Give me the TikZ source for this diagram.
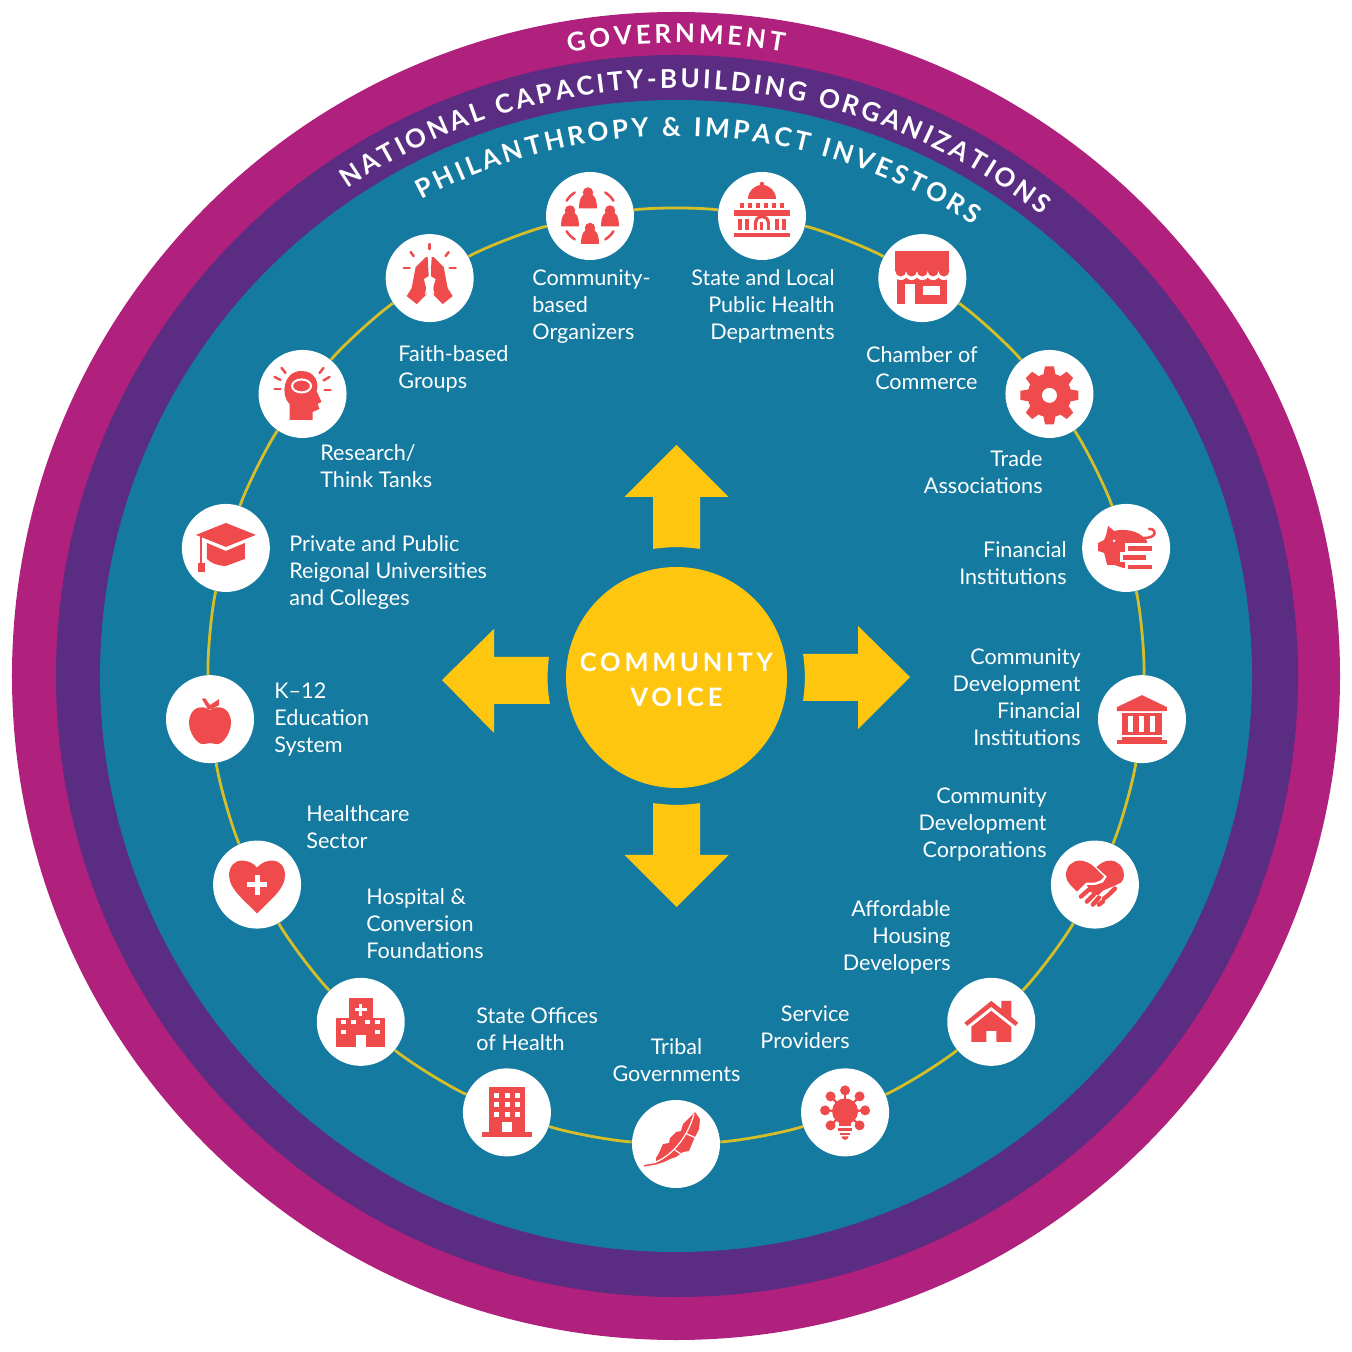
\documentclass[tikz,border=0pt]{standalone}
\usepackage{fontspec}
\usetikzlibrary{calc}
\usetikzlibrary{decorations.text}
\setmainfont{Lato}
\newfontfamily\ringfont{Lato}[LetterSpace=0]
\newfontfamily\voicefont{Lato}[LetterSpace=15]
\definecolor{govmagenta}{RGB}{176,32,125}
\definecolor{natpurple}{RGB}{90,44,130}
\definecolor{philteal}{RGB}{20,122,160}
\definecolor{voiceyellow}{RGB}{254,198,14}
\definecolor{ringgold}{RGB}{214,190,40}
\definecolor{iconred}{RGB}{240,75,76}
\tikzset{
    stake/.style={circle, fill=white, inner sep=0pt, minimum size=44pt},
    lbl/.style={text=white, font=\fontsize{10.8}{13.5}\selectfont, inner sep=0pt},
    lblL/.style={lbl, anchor=west, align=left},
    lblR/.style={lbl, anchor=east, align=right},
    ringline/.style={draw=ringgold, line width=1.4pt},
    arrowfill/.style={fill=voiceyellow},
    icon/.style={fill=iconred},
    iconw/.style={fill=white},
    ray/.style={draw=iconred, line width=1.25pt, line cap=round},
    finger/.style={draw=iconred, line width=2.2pt, line cap=round},
    cut/.style={draw=white, line width=0.6pt, line cap=round},
}
\begin{document}
\begin{tikzpicture}[x=0.5pt, y=0.5pt]
    \useasboundingbox (-676,-676) rectangle (676,676);

    % nested rings
    \fill[govmagenta] (0,0) circle (664);
    \fill[natpurple] (1,0) circle (621);
    \fill[philteal] (0,0) circle (576);

    \path[decorate, decoration={text along path, text align=fit to path,
        text={|\ringfont\bfseries\fontsize{13}{14}\selectfont\color{white}|GOVERNMENT}}]
        (99.8:633) arc[start angle=99.8, end angle=80.2, radius=633];
    \path[decorate, decoration={text along path, text align=fit to path,
        text={|\ringfont\bfseries\fontsize{13}{14}\selectfont\color{white}|NATIONAL CAPACITY-BUILDING ORGANIZATIONS}}]
        (124:588) arc[start angle=124, end angle=51.6, radius=588];
    \path[decorate, decoration={text along path, text align=fit to path,
        text={|\ringfont\bfseries\fontsize{13}{14}\selectfont\color{white}|PHILANTHROPY {\&} IMPACT INVESTORS}}]
        (118.1:540) arc[start angle=118.1, end angle=56.6, radius=540];

    % stakeholders, counter-clockwise from the bottom
    \node[stake] (tribal) at (270:468) {};
    \node[stake] (service) at (291.18:468) {};
    \node[stake] (housing) at (312.35:468) {};
    \node[stake] (cdc) at (333.53:468) {};
    \node[stake] (cdfi) at (354.71:468) {};
    \node[stake] (financial) at (15.88:468) {};
    \node[stake] (trade) at (37.06:468) {};
    \node[stake] (chamber) at (58.24:468) {};
    \node[stake] (statelocal) at (79.41:468) {};
    \node[stake] (cbo) at (100.59:468) {};
    \node[stake] (faith) at (121.76:468) {};
    \node[stake] (research) at (142.94:468) {};
    \node[stake] (univ) at (164.12:468) {};
    \node[stake] (ktwelve) at (185.29:468) {};
    \node[stake] (healthcare) at (206.47:468) {};
    \node[stake] (hospital) at (227.65:468) {};
    \node[stake] (stateoffice) at (248.82:468) {};

    \foreach \a/\b in {tribal/service, service/housing, housing/cdc, cdc/cdfi, cdfi/financial,
        financial/trade, trade/chamber, chamber/statelocal, statelocal/cbo, cbo/faith,
        faith/research, research/univ, univ/ktwelve, ktwelve/healthcare,
        healthcare/hospital, hospital/stateoffice, stateoffice/tribal}
        \draw[ringline] (\a) to[bend right=7.9, looseness=0.56] (\b);

    % labels
    \node[lblL] (cbolbl) at (-144,369.5) {Community-\\based\\Organizers};
    \node[lblR] (statelocallbl) at (159,369.5) {State and Local\\Public Health\\Departments};
    \node[lblL] (faithlbl) at (-278,307) {Faith-based\\Groups};
    \node[lblR] (chamberlbl) at (302,308) {Chamber of\\Commerce};
    \node[lblL] (researchlbl) at (-356,209.5) {Research/\\Think Tanks};
    \node[lblR] (tradelbl) at (367,203.5) {Trade\\Associations};
    \node[lblL] (univlbl) at (-387,103) {Private and Public\\Reigonal Universities\\and Colleges};
    \node[lblR] (financiallbl) at (391,113) {Financial\\Institutions};
    \node[lblL] (ktwelvelbl) at (-402,-44) {K--12\\Education\\System};
    \node[lblR] (cdfilbl) at (405,-21.5) {Community\\Development\\Financial\\Institutions};
    \node[lblL] (healthcarelbl) at (-370,-151) {Healthcare\\Sector};
    \node[lblR] (cdclbl) at (371,-148) {Community\\Development\\Corporations};
    \node[lblL] (hospitallbl) at (-310,-248) {Hospital \&\\Conversion\\Foundations};
    \node[lblR] (housinglbl) at (275,-261) {Affordable\\Housing\\Developers};
    \node[lblL] (stateofficelbl) at (-200,-353) {State Offices\\of Health};
    \node[lblR] (servicelbl) at (174,-351.5) {Service\\Providers};
    \node[lbl, align=center] (triballbl) at (0.5,-384.5) {Tribal\\Governments};

    % community voice and its four arrows
    \node[circle, fill=voiceyellow, minimum size=110.5pt, inner sep=0pt] (voice) at (0.5,-1.5) {};
    \node[text=white, align=center, inner sep=0pt,
        font=\voicefont\bfseries\fontsize{12.7}{17.5}\selectfont] (voicelbl) at (0.5,-3.5) {COMMUNITY\\VOICE};
    \fill[arrowfill] (-23,127) -- (-23,179) -- (-51.5,179) -- (0.5,231) -- (52.5,179) -- (24,179) -- (24,127)
        .. controls (8,129.5) and (-7,129.5) .. (-23,127) -- cycle;
    \fill[arrowfill] (-23,-127) -- (-23,-179) -- (-51.5,-179) -- (0.5,-231) -- (52.5,-179) -- (24,-179) -- (24,-127)
        .. controls (8,-129.5) and (-7,-129.5) .. (-23,-127) -- cycle;
    \fill[arrowfill] (-127,19) -- (-182,19) -- (-182,47) -- (-234,-4) -- (-182,-57) -- (-182,-28) -- (-126,-28)
        .. controls (-129,-13) and (-129,4) .. (-127,19) -- cycle;
    \fill[arrowfill] (127,22) -- (182,22) -- (182,50) -- (234,-1) -- (182,-53) -- (182,-25) -- (127,-25)
        .. controls (129.5,-9) and (129.5,6) .. (127,22) -- cycle;

    % icons
    \begin{scope}[shift={(cbo.center)}]
        \foreach \px/\py in {-2/18, -20/0, 20/0, 0/-17.5} {
            \fill[icon, shift={(\px,\py)}] (0,5.5) circle (5.2);
            \fill[icon, shift={(\px,\py)}] (-9,-10.5) .. controls (-9,-1) and (-6,5) .. (0,5)
                .. controls (6,5) and (9,-1) .. (9,-10.5) -- cycle;
        }
        \foreach \ang in {45,135,225,315}
            \draw[ray] (\ang-12:28) arc[start angle=\ang-12, end angle=\ang+12, radius=28];
    \end{scope}

    \begin{scope}[shift={(statelocal.center)}]
        \fill[icon] (-14,17) arc[start angle=180, end angle=0, radius=14] -- cycle;
        \fill[icon] (0,32) circle (2.2);
        \foreach \dx in {-20,-12,-4,4,12,20}
            \fill[icon] (\dx-2,8) rectangle (\dx+2,13);
        \fill[icon] (-28,0) rectangle (28,6);
        \foreach \dx in {-24,-17,13,20}
            \fill[icon] (\dx,-14) rectangle (\dx+4,-3);
        \fill[icon] (-8,-14) -- (-8,-7) arc[start angle=180, end angle=0, radius=8] -- (8,-14)
            -- (5,-14) -- (5,-7) arc[start angle=0, end angle=180, radius=5] -- (-5,-14) -- cycle;
        \fill[icon] (-1.5,-14) rectangle (1.5,-6);
        \fill[icon] (-28,-21) rectangle (28,-17);
    \end{scope}

    \begin{scope}[shift={(chamber.center)}]
        \fill[icon] (-25,6) rectangle (25,-26);
        \foreach \i in {0,...,4} \fill[iconw] (-21.6+10.8*\i,5) circle (7);
        \fill[icon] (-27,27) -- (27,27) -- (27,7) -- (-27,7) -- cycle;
        \foreach \i in {0,...,4} \fill[icon] (-21.6+10.8*\i,7) circle (5.4);
        \fill[iconw] (-17,-26) rectangle (-7,-6);
        \fill[iconw] (1,-8) rectangle (18,-17);
    \end{scope}

    \begin{scope}[shift={(trade.center)}, yshift=-0.7pt]
        \fill[icon] (0,0) circle (22);
        \foreach \ang in {0,45,...,315}
            \fill[icon, rotate=\ang] (-6.5,18) -- (-4.5,29) -- (4.5,29) -- (6.5,18) -- cycle;
        \fill[iconw] (0,0) circle (7.5);
    \end{scope}

    \begin{scope}[shift={(financial.center)}]
        \fill[icon] (-18,22) -- (-12,17) .. controls (-3,19) and (12,19) .. (21,7) -- (22,-20) -- (-3,-20)
            -- (-12,-17) -- (-19,-17) -- (-22,-5) -- (-28,-3) -- (-28,5) -- (-22,8) -- (-20,13) -- cycle;
        \fill[iconw] (-12,7) circle (1.4);
        \draw[ray] (18,10) .. controls (26,10) and (30,13) .. (28,17) .. controls (27,19) and (25,19) .. (23,19);
        \fill[iconw] (-1,5) rectangle (32,-4.5);
        \fill[iconw] (-6,-4.5) rectangle (32,-14.5);
        \fill[iconw] (-1,-14.5) rectangle (32,-25);
        \fill[icon] (2,2) rectangle (26,-3);
        \fill[icon] (-3,-7) rectangle (20,-12);
        \fill[icon] (2,-17) rectangle (26,-21);
    \end{scope}

    \begin{scope}[shift={(cdfi.center)}]
        \fill[icon] (0,24) -- (25,12) -- (25,8) -- (-25,8) -- (-25,12) -- cycle;
        \fill[icon] (-20,6) rectangle (20,-16);
        \foreach \dx in {-11,0,11}
            \fill[iconw] (\dx-2.5,3) rectangle (\dx+2.5,-13);
        \fill[icon] (-20,-18) rectangle (20,-21);
        \fill[icon] (-25,-21) rectangle (25,-25);
    \end{scope}

    \begin{scope}[shift={(cdc.center)}]
        \fill[icon] (0,17) .. controls (-4,21) and (-10,24) .. (-15,24) .. controls (-23,24) and (-29,18) .. (-29,9)
            .. controls (-29,3) and (-23,-2) .. (-18,-7) -- (-9,2) -- (0,2) -- (6,4.5) -- (9,8) -- cycle;
        \fill[icon] (1.5,17.5) .. controls (5,21) and (10,24) .. (15,24) .. controls (23,24) and (29,18) .. (29,9)
            .. controls (29,6) and (28,4) .. (26,2) -- (20,-1) -- (8,-6) -- (3,-11) -- (-5,-7) -- (-8,-0.5) -- (0,-0.5)
            -- (8,2) -- (12,8) -- cycle;
        \draw[finger] (-6,-5) -- (-14,-12);
        \draw[finger] (-1,-10) -- (-8,-17);
        \draw[finger] (4,-13) -- (-2,-20);
        \draw[finger] (15,-9) -- (20,-4);
        \draw[finger] (9,-14) -- (14,-10);
        \draw[finger] (4,-20) -- (8,-17);
    \end{scope}

    \begin{scope}[shift={(housing.center)}]
        \fill[icon] (-27,-1) -- (0,21) -- (10,13) -- (10,21) -- (20,21) -- (20,5) -- (27,-1) -- (24,-4)
            -- (0,15) -- (-24,-4) -- cycle;
        \fill[icon] (0,11) -- (20,-5) -- (20,-20) -- (5,-20) -- (5,-9) -- (-5,-9) -- (-5,-20)
            -- (-20,-20) -- (-20,-5) -- cycle;
    \end{scope}

    \begin{scope}[shift={(service.center)}]
        \foreach \sx/\sy in {0/22, -14.5/16, 14.5/16, -20/2, 20/2, -14.5/-13, 14.5/-13} {
            \fill[icon] (\sx,\sy) circle (5);
            \draw[iconred, line width=1.1pt] (0,1) -- (\sx,\sy);
        }
        \fill[icon] (0,1) circle (13);
        \fill[icon] (-6,-6) rectangle (6,-14);
        \fill[icon] (-7,-16) rectangle (7,-18.5);
        \fill[icon] (-5,-20.5) rectangle (5,-23);
        \fill[icon] (-3.5,-24) arc[start angle=180, end angle=360, radius=3.5] -- cycle;
    \end{scope}

    \begin{scope}[shift={(tribal.center)}]
        \fill[icon] (-32,-21) -- (-20,-19) -- (-20,-14) -- (-17,-9) -- (-13,0) -- (-7,1) -- (-6,6) -- (0,12)
            -- (5,13) -- (7,20) -- (19,32) -- (24,25) -- (23,15) -- (18,5) -- (13,-7) -- (7,-8) -- (0,-13)
            -- (-6,-15) -- (-12,-18) -- (-20,-20.5) -- (-32,-22.5) -- cycle;
        \draw[cut] (-20,-18) .. controls (-2,-10) and (12,8) .. (18,30);
        \draw[cut] (11,10) -- (20,6);
        \draw[cut] (-1,-6) -- (5,-10);
    \end{scope}

    \begin{scope}[shift={(stateoffice.center)}]
        \fill[icon] (-17.5,25) rectangle (18,-20);
        \fill[icon] (-25,-20) rectangle (25,-25);
        \foreach \dx in {-10.5,0.5,11}
            \foreach \dy in {17,7.5,-2}
                \fill[iconw] (\dx-2.5,\dy-2.5) rectangle (\dx+2.5,\dy+2.5);
        \fill[iconw] (-5,-20) rectangle (5.5,-10);
    \end{scope}

    \begin{scope}[shift={(hospital.center)}]
        \fill[icon] (-12,24) rectangle (12,4);
        \fill[icon] (-25,4) rectangle (24,-25);
        \fill[iconw] (-1.5,18) rectangle (1.5,6);
        \fill[iconw] (-6,10.5) rectangle (6,13.5);
        \foreach \dx/\dy in {-17/0, -7/0, 7/0, 17/0, -17/-10, 17/-10}
            \fill[iconw] (\dx-2.3,\dy-2.3) rectangle (\dx+2.3,\dy+2.3);
        \fill[iconw] (-5,-25) rectangle (5,-13);
    \end{scope}

    \begin{scope}[shift={(healthcare.center)}]
        \fill[icon] (0,17) .. controls (4,22) and (10,24) .. (15,24) .. controls (23,24) and (28,18) .. (28,9)
            .. controls (28,-5) and (10,-18) .. (0,-29)
            .. controls (-10,-18) and (-28,-5) .. (-28,9) .. controls (-28,18) and (-23,24) .. (-15,24)
            .. controls (-10,24) and (-4,22) .. (0,17) -- cycle;
        \fill[iconw] (-2.5,-10) rectangle (2.5,10);
        \fill[iconw] (-10,-2.5) rectangle (10,2.5);
    \end{scope}

    \begin{scope}[shift={(ktwelve.center)}]
        \fill[icon] (0,9) .. controls (6,14) and (20,14) .. (21,-3) .. controls (21,-14) and (13,-25) .. (7,-25)
            .. controls (4,-25) and (3,-24) .. (0,-24) .. controls (-3,-24) and (-4,-25) .. (-7,-25)
            .. controls (-13,-25) and (-21,-14) .. (-21,-3) .. controls (-20,14) and (-6,14) .. (0,9) -- cycle;
        \fill[icon] (-2,10) -- (-8,20) -- (-5,21) -- (0,14) -- (9,20) -- (9,14) -- (1,10) -- cycle;
    \end{scope}

    \begin{scope}[shift={(univ.center)}]
        \fill[icon] (-30,13) -- (0,25) -- (30,13) -- (0,1) -- cycle;
        \fill[icon] (-19,5) -- (0,-3) -- (19,5) -- (19,-11) -- (0,-18) .. controls (-8,-18) and (-15,-15) .. (-19,-11) -- cycle;
        \draw[iconred, line width=0.8pt] (-25,12) -- (-25,-15);
        \fill[icon] (-27.5,-15) rectangle (-20.5,-24);
    \end{scope}

    \begin{scope}[shift={(research.center)}]
        \fill[icon] (-13,-26) -- (-13,-10) .. controls (-22,-2) and (-20,23) .. (-1,23)
            .. controls (13,23) and (17,10) .. (14,3) -- (19,-8) -- (15,-10) -- (17,-15) -- (10,-18) -- (10,-26) -- cycle;
        \draw[white, line width=1pt] (-1,8) ellipse (9.5 and 6.5);
        \draw[ray] (-21,26) -- (-17,21);
        \draw[ray] (-28,17) -- (-22,14);
        \draw[ray] (-28,5) -- (-22,5);
        \draw[ray] (21,26) -- (17,21);
        \draw[ray] (27,17) -- (21,13.5);
        \draw[ray] (28,4) -- (22,4);
    \end{scope}

    \begin{scope}[shift={(faith.center)}]
        \foreach \side in {1,-1} {
            \fill[icon, xscale=\side] (-2,21) -- (-4,21) -- (-14,11) -- (-18,-10) -- (-23,-18) -- (-13,-26) -- (-3,-16)
                -- (-4,-8) -- (-6,-1) -- (-1,2) -- cycle;
        }
        \draw[draw=white, line width=1pt] (0,22) -- (0,-5);
        \draw[cut] (-4,-16) -- (-2,-6);
        \draw[cut] (4,-16) -- (2,-6);
        \draw[ray] (0,29) -- (0,34);
        \draw[ray] (-16,22) -- (-19,26);
        \draw[ray] (16,22) -- (19,26);
        \draw[ray] (-26,10) -- (-20,10);
        \draw[ray] (26,10) -- (20,10);
    \end{scope}
\end{tikzpicture}
\end{document}
